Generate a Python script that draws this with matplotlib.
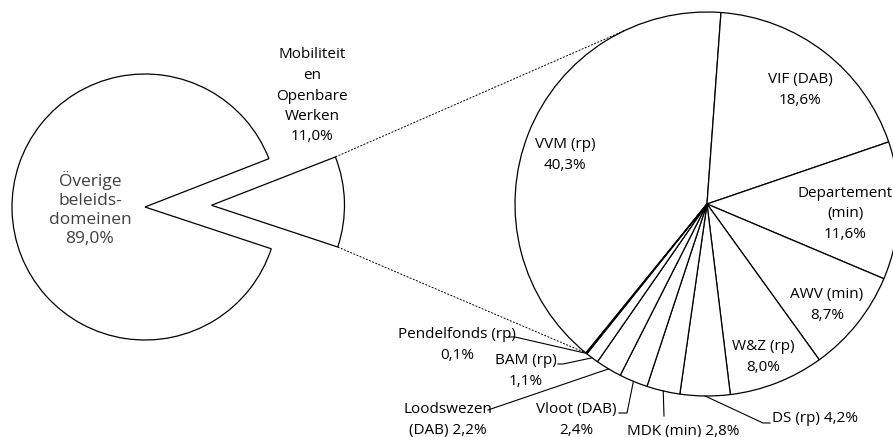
import numpy as np
import matplotlib
matplotlib.use('Agg')
import matplotlib.pyplot as plt

plt.rcParams['font.family'] = ['Open Sans', 'DejaVu Sans']

# primaire taart
main_labels = ['Överige\nbeleids-\ndomeinen', 'Mobiliteit\nen\nOpenbare\nWerken']
main_values = [89.0, 11.0]

# secundaire taart (uitsplitsing Mobiliteit en Openbare Werken)
sub_labels = ['VVM (rp)', 'VIF (DAB)', 'Departement\n(min)', 'AWV (min)', 'W&Z (rp)',
              'DS (rp)', 'MDK (min)', 'Vloot (DAB)', 'Loodswezen\n(DAB)', 'BAM (rp)',
              'Pendelfonds (rp)']
sub_values = [40.3, 18.6, 11.6, 8.7, 8.0, 4.2, 2.8, 2.4, 2.2, 1.1, 0.1]


def pct(v):
    return f'{v:.1f}'.replace('.', ',') + '%'


W, H = 893, 437
fig = plt.figure(figsize=(W / 100, H / 100), dpi=100)
ax = fig.add_axes([0, 0, 1, 1])

# geometrie in pixels (y naar boven)
c1 = (145, H - 207)
r1 = 133
c2 = (707, H - 204)
r2 = 192
start1 = 21.3
start2 = 230.9

wp = dict(edgecolor='black', linewidth=0.9, facecolor='white')
ax.pie(main_values, center=c1, radius=r1, startangle=start1, counterclock=True,
       explode=[0, 0.5 * r1], wedgeprops=wp, frame=True)
ax.pie(sub_values, center=c2, radius=r2, startangle=start2, counterclock=False,
       wedgeprops=wp, frame=True)

# verbindingslijnen (gestippeld)
half = 360 * main_values[1] / 100 / 2
mid1 = start1 - half
ex = (c1[0] + 0.5 * r1 * np.cos(np.radians(mid1)), c1[1] + 0.5 * r1 * np.sin(np.radians(mid1)))
a_up = np.radians(start1)
a_lo = np.radians(start1 - 2 * half)
p_up = (ex[0] + r1 * np.cos(a_up), ex[1] + r1 * np.sin(a_up))
p_lo = (ex[0] + r1 * np.cos(a_lo), ex[1] + r1 * np.sin(a_lo))
q_up = (c2[0] + r2 * np.cos(np.radians(115.1)), c2[1] + r2 * np.sin(np.radians(115.1)))
q_lo = (c2[0] + r2 * np.cos(np.radians(start2)), c2[1] + r2 * np.sin(np.radians(start2)))
ax.plot([p_up[0], q_up[0]], [p_up[1], q_up[1]], color='black', lw=0.7, ls=(0, (2, 1.5)))
ax.plot([p_lo[0], q_lo[0]], [p_lo[1], q_lo[1]], color='black', lw=0.7, ls=(0, (2, 1.5)))

# labels primaire taart
ax.text(90, H - 209, main_labels[0] + '\n' + pct(main_values[0]), ha='center', va='center',
        fontsize=12.5, color='#404040', linespacing=1.25)
ax.text(312, H - 96, main_labels[1] + '\n' + pct(main_values[1]), ha='center', va='center',
        fontsize=11, color='black', linespacing=1.5)

# labelposities secundaire taart (pixels): x, y, ha, op één regel
label_pos = [
    (565, 155, 'center', False),
    (800, 90, 'center', False),
    (845, 214, 'center', False),
    (827, 305, 'center', False),
    (763, 357, 'center', False),
    (772, 419, 'left', True),
    (683, 431, 'center', True),
    (576, 420, 'center', False),
    (448, 420, 'center', True),
    (526, 371, 'center', False),
    (457, 345, 'center', False),
]
# leiderlijnen: tussenpunten vanaf de rand van het segment (pixels)
leaders = {
    5: [(763, 423), (770, 423)],
    6: [(664, 416)],
    7: [(627, 413), (619, 413)],
    8: [(488, 410)],
    9: [(563, 364), (558, 364)],
    10: [(515, 337), (509, 337)],
}

cum = np.cumsum([0] + sub_values)
for i, (lab, val) in enumerate(zip(sub_labels, sub_values)):
    x, y, ha, oneline = label_pos[i]
    txt = lab + (' ' if oneline else '\n') + pct(val)
    ax.text(x, H - y, txt, ha=ha, va='center', fontsize=11, color='black', linespacing=1.5)
    if i in leaders:
        mid = np.radians(start2 - 3.6 * (cum[i] + cum[i + 1]) / 2)
        xs = [c2[0] + r2 * np.cos(mid)] + [p[0] for p in leaders[i]]
        ys = [c2[1] + r2 * np.sin(mid)] + [H - p[1] for p in leaders[i]]
        ax.plot(xs, ys, color='black', lw=0.8)

ax.set_xlim(0, W)
ax.set_ylim(0, H)
ax.set_aspect('equal')
ax.set_axis_off()
fig.savefig('out.png', dpi=100, facecolor='white')
